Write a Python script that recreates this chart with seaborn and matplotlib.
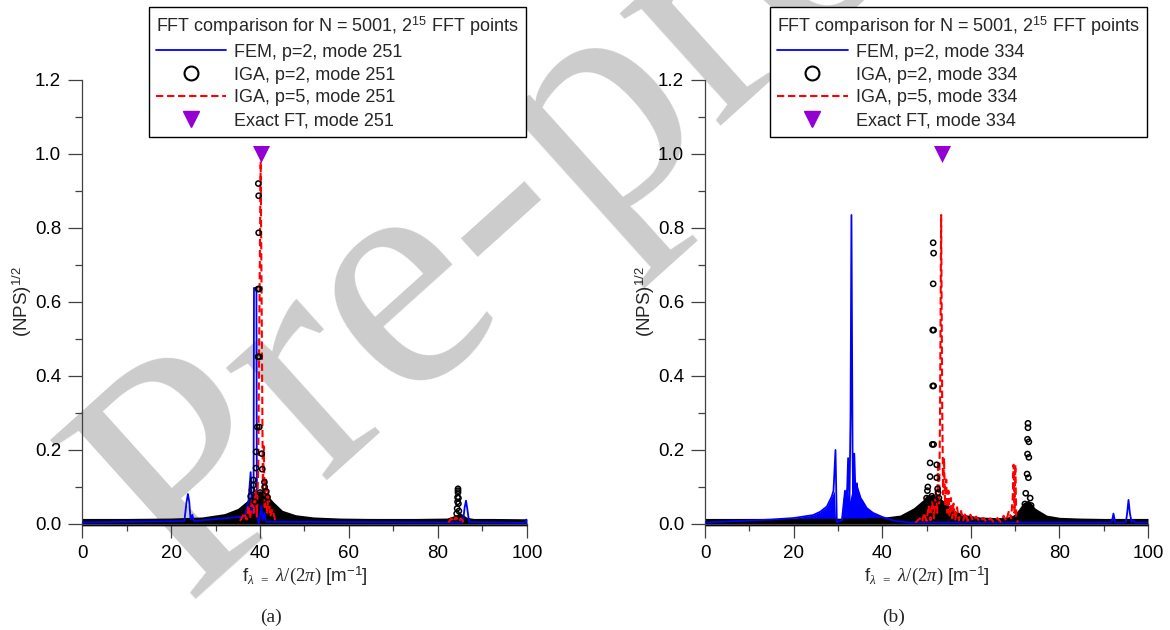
import numpy as np
import pandas as pd
import matplotlib
matplotlib.use("Agg")
import matplotlib.pyplot as plt
from matplotlib.lines import Line2D
import seaborn as sns

# ---------------- data ----------------
# panel (a): mode 251
fem_a_x = [0, 23.0, 23.5, 23.8, 24.1, 24.4, 24.8, 25.1, 36.5, 37.4, 37.9, 38.15, 38.55, 38.65,
           39.2, 39.3, 39.7, 40.3, 40.6, 41.0, 41.3, 85.6, 86.0, 86.3, 86.6, 87.0, 99.6, 99.85, 100]
fem_a_y = [0.004, 0.008, 0.06, 0.081, 0.06, 0.012, 0.025, 0.008, 0.02, 0.06, 0.14, 0.03, 0.03, 0.638,
           0.638, 0.03, 0.0, 0.05, 0.01, 0.03, 0.006, 0.004, 0.045, 0.063, 0.04, 0.005, 0.003, 0.012, 0.003]
red_a_x = [35.5, 36.5, 37.0, 37.4, 37.8, 38.2, 38.6, 39.0, 39.3, 39.6, 39.85, 40.15, 40.45, 40.65,
           40.85, 41.05, 41.3, 41.6, 41.9, 42.3, 42.8, 43.5]
red_a_y = [0.008, 0.03, 0.012, 0.05, 0.015, 0.07, 0.03, 0.09, 0.02, 0.15, 0.55, 0.98, 0.45, 0.08,
           0.21, 0.04, 0.12, 0.03, 0.09, 0.02, 0.04, 0.006]
red_a2_x = [82.3, 83.0, 83.6, 84.0, 84.6, 85.2, 85.8]
red_a2_y = [0.004, 0.015, 0.006, 0.02, 0.006, 0.015, 0.004]
circ_a_x = [39.62, 39.7, 39.7, 39.55, 39.8, 39.55, 39.85, 39.4, 39.85, 39.1, 40.4, 39.1, 40.5, 38.5,
            41.0, 38.5, 41.05, 38.2, 41.4, 37.9, 41.7, 38.8, 40.8, 40.0,
            84.5, 84.5, 84.5, 84.4, 84.6, 84.4, 84.6, 84.3, 84.7, 84.2]
circ_a_y = [0.92, 0.887, 0.787, 0.635, 0.635, 0.452, 0.452, 0.262, 0.262, 0.195, 0.19, 0.151, 0.148, 0.119,
            0.113, 0.105, 0.1, 0.092, 0.088, 0.075, 0.072, 0.06, 0.065, 0.085,
            0.095, 0.09, 0.085, 0.072, 0.07, 0.06, 0.055, 0.042, 0.035, 0.028]
env_a_x = [0, 10, 20, 27, 32, 35, 37, 38.5, 40, 41.5, 43, 45, 48, 52, 58, 65, 75, 82, 83.5, 85,
           86.5, 88, 92, 100]
env_a_y = [0.015, 0.015, 0.016, 0.019, 0.028, 0.042, 0.062, 0.085, 0.09, 0.08, 0.06, 0.037, 0.025,
           0.019, 0.016, 0.015, 0.015, 0.016, 0.022, 0.03, 0.018, 0.015, 0.015, 0.014]
exact_a_x = [40.2]

# panel (b): mode 334
fem_b_x = [0, 15, 20, 24.4, 26, 27.5, 28.6, 29.0, 29.45, 29.75, 30.9, 31.6, 32.0, 32.3, 32.6, 32.85,
           33.05, 33.3, 33.45, 33.7, 34.0, 34.3, 34.6, 35.0, 35.4, 36.5, 37.9, 40.2, 43, 46,
           91.8, 92.2, 92.6, 95.0, 95.3, 95.6, 95.9, 96.3, 96.7, 97, 100]
fem_b_y = [0.004, 0.012, 0.016, 0.024, 0.033, 0.047, 0.074, 0.09, 0.2, 0.005, 0.01, 0.09, 0.06, 0.178,
           0.05, 0.3, 0.835, 0.2, 0.06, 0.19, 0.06, 0.11, 0.04, 0.07, 0.065, 0.043, 0.03, 0.018, 0.008,
           0.004, 0.004, 0.028, 0.004, 0.004, 0.03, 0.065, 0.03, 0.004, 0.01, 0.004, 0.004]
fem_env_b_x = [0, 10, 15, 20, 24.4, 26, 27.5, 28.6, 29.2, 29.5, 30.9, 31.2, 32.0, 32.6, 33.4, 34.2,
               35.4, 36.5, 37.9, 40.2, 43, 46]
fem_env_b_y = [0.01, 0.011, 0.012, 0.016, 0.024, 0.033, 0.047, 0.074, 0.09, 0.0, 0.0, 0.07, 0.1, 0.06,
               0.1, 0.11, 0.065, 0.043, 0.03, 0.018, 0.008, 0.004]
red_b_x = [47.5, 48.5, 49.0, 49.5, 50.0, 50.5, 50.9, 51.3, 51.7, 52.1, 52.4, 52.6, 52.85, 53.05, 53.3,
           53.55, 53.75, 53.95, 54.2, 54.45, 54.7, 54.95, 55.2, 55.5, 55.8, 56.1, 56.5, 56.9, 57.3,
           57.8, 58.3, 58.8, 59.3, 59.9, 60.5, 61.2, 62, 62.8, 63.6, 64.4, 65.2, 66, 66.7, 67.4, 68,
           68.6, 69.1, 69.45, 69.65, 69.85, 70.05, 70.25, 70.6]
red_b_y = [0.004, 0.015, 0.005, 0.03, 0.008, 0.05, 0.01, 0.06, 0.015, 0.09, 0.03, 0.17, 0.05, 0.3, 0.835,
           0.3, 0.08, 0.178, 0.05, 0.12, 0.03, 0.09, 0.02, 0.07, 0.015, 0.055, 0.012, 0.045, 0.01,
           0.035, 0.01, 0.03, 0.008, 0.025, 0.008, 0.02, 0.006, 0.016, 0.005, 0.015, 0.005, 0.016, 0.006,
           0.022, 0.008, 0.035, 0.015, 0.07, 0.16, 0.03, 0.16, 0.02, 0.004]
circ_b_x = [51.5, 51.6, 51.5, 51.4, 51.6, 51.4, 51.6, 51.3, 51.6, 50.8, 52.3, 50.8, 52.3, 50.3, 52.5,
            50.2, 52.6, 50.0, 52.8, 51.2, 52.0,
            72.9, 72.9, 72.8, 73.1, 72.8, 73.1, 72.7, 73.0, 72.4, 73.4, 72.2, 73.6]
circ_b_y = [0.76, 0.732, 0.649, 0.524, 0.524, 0.373, 0.373, 0.215, 0.215, 0.165, 0.16, 0.128, 0.125, 0.1,
            0.095, 0.09, 0.085, 0.07, 0.07, 0.075, 0.065,
            0.272, 0.26, 0.229, 0.222, 0.189, 0.18, 0.135, 0.125, 0.083, 0.07, 0.054, 0.05]
env_b_x = [0, 20, 35, 40, 44, 47, 49.2, 50.0, 51.5, 52.5, 53.5, 54.5, 56, 58.3, 62, 66, 68, 69.6,
           70.8, 71.8, 73, 74.5, 77.1, 80, 84.6, 90, 100]
env_b_y = [0.015, 0.015, 0.016, 0.018, 0.024, 0.043, 0.065, 0.078, 0.08, 0.075, 0.066, 0.057, 0.038,
           0.026, 0.019, 0.017, 0.018, 0.024, 0.04, 0.057, 0.065, 0.043, 0.024, 0.018, 0.016, 0.015, 0.015]
exact_b_x = [53.5]
exact_y = [1.0]

modes = ["251", "334"]
x_ticks = [0, 20, 40, 60, 80, 100]
y_ticks = [0.0, 0.2, 0.4, 0.6, 0.8, 1.0, 1.2]
legend_title = r"FFT comparison for N = 5001, 2$^{\mathsf{15}}$ FFT points"

# ---------------- style ----------------
sns.set_style("ticks")
plt.rcParams["font.family"] = ["Liberation Sans", "DejaVu Sans"]
plt.rcParams["mathtext.fontset"] = "custom"
plt.rcParams["mathtext.rm"] = "Liberation Serif"
plt.rcParams["mathtext.it"] = "Liberation Serif:italic"
plt.rcParams["mathtext.bf"] = "Liberation Serif:bold"
plt.rcParams["mathtext.sf"] = "Liberation Sans"

BLUE = "#0000ff"
RED = "#ff0000"
PURPLE = "#9400d3"
AXC = "#404040"
FS = 13.5
LFS = 13

fig = plt.figure(figsize=(11.7, 6.3), dpi=100)
fig.patch.set_facecolor("white")

# watermark
fig.text(185 / 1170, 1 - 600 / 630, "Pre-proof", rotation=42, rotation_mode="anchor", ha="left",
         va="baseline", fontsize=237, color="#cccccc", family="Liberation Serif", zorder=-10)

panels = [
    dict(rect=[0.0701, 0.1683, 0.3803, 0.7048], fem=(fem_a_x, fem_a_y), fem_env=None,
         reds=[(red_a_x, red_a_y), (red_a2_x, red_a2_y)], circ=(circ_a_x, circ_a_y),
         env=(env_a_x, env_a_y), exact=exact_a_x, leg_x=148.5 / 1170, cap="(a)", cap_x=271 / 1170),
    dict(rect=[0.6026, 0.1683, 0.3786, 0.7048], fem=(fem_b_x, fem_b_y), fem_env=(fem_env_b_x, fem_env_b_y),
         reds=[(red_b_x, red_b_y)], circ=(circ_b_x, circ_b_y),
         env=(env_b_x, env_b_y), exact=exact_b_x, leg_x=770 / 1170, cap="(b)", cap_x=894 / 1170),
]

for p, mode in zip(panels, modes):
    ax = fig.add_axes(p["rect"])
    ax.patch.set_alpha(0)

    # FEM envelope (dense oscillation)
    if p["fem_env"] is not None:
        fx, fy = p["fem_env"]
        ax.fill_between(fx, 0.0, fy, color=BLUE, lw=0, zorder=1.5)
    # dense IGA p=2 cloud (black)
    ex, ey = p["env"]
    ax.fill_between(ex, -0.005, ey, color="black", lw=0, zorder=2, clip_on=False)
    # FEM line
    sns.lineplot(x=p["fem"][0], y=p["fem"][1], ax=ax, color=BLUE, lw=1.3, estimator=None,
                 sort=False, legend=False, zorder=3)
    # IGA p=5 dashed
    for rx, ry in p["reds"]:
        sns.lineplot(x=rx, y=ry, ax=ax, color=RED, lw=1.5, estimator=None, sort=False,
                     legend=False, zorder=4, linestyle=(0, (3.5, 1.8)))
    # IGA p=2 circles
    sns.scatterplot(x=p["circ"][0], y=p["circ"][1], ax=ax, marker="o", s=14, facecolor="none",
                    edgecolor="black", linewidth=1.1, legend=False, zorder=5)
    # Exact FT
    sns.scatterplot(x=p["exact"], y=exact_y, ax=ax, marker="v", s=150, color=PURPLE,
                    edgecolor=PURPLE, linewidth=0, legend=False, zorder=6, clip_on=False)

    ax.set_xlim(0, 100)
    ax.set_ylim(0, 1.2)
    ax.set_xticks(x_ticks)
    ax.set_xticks([10, 30, 50, 70, 90], minor=True)
    ax.set_yticks(y_ticks)
    ax.set_yticks([0.1, 0.3, 0.5, 0.7, 0.9, 1.1], minor=True)
    ax.set_yticklabels([f"{v:.1f}" for v in y_ticks])
    ax.set_xticklabels([str(v) for v in x_ticks])
    for s in ["top", "right"]:
        ax.spines[s].set_visible(False)
    for s in ["left", "bottom"]:
        ax.spines[s].set_color(AXC)
        ax.spines[s].set_linewidth(0.9)
    ax.tick_params(which="major", direction="out", length=10, width=0.9, color=AXC,
                   labelsize=FS, pad=5, labelcolor="black")
    ax.tick_params(which="minor", direction="out", length=5, width=0.9, color=AXC)

    ax.set_ylabel(r"(NPS)$^{\mathsf{1/2}}$", fontsize=FS, labelpad=1)
    ax.set_xlabel(r"f$_{\lambda}$ $_{=}$ $\lambda/(2\pi)$ [m$^{\mathsf{-1}}$]", fontsize=FS, labelpad=2)

    handles = [
        Line2D([], [], color=BLUE, lw=1.3),
        Line2D([], [], ls="none", marker="o", ms=10, mfc="none", mec="black", mew=1.5),
        Line2D([], [], color=RED, lw=1.5, ls=(0, (3.5, 1.8))),
        Line2D([], [], ls="none", marker="v", ms=11, mfc=PURPLE, mec=PURPLE),
    ]
    labels = [f"FEM, p=2, mode {mode}", f"IGA, p=2, mode {mode}",
              f"IGA, p=5, mode {mode}", f"Exact FT, mode {mode}"]
    leg = ax.legend(handles, labels, title=legend_title, loc="upper left",
                    bbox_to_anchor=(p["leg_x"], 1 - 7 / 630), bbox_transform=fig.transFigure,
                    borderaxespad=0, fontsize=LFS, title_fontsize=LFS, frameon=True, fancybox=False,
                    edgecolor="black", framealpha=1, borderpad=0.4, handlelength=3.9,
                    handletextpad=0.45, labelspacing=0.33, alignment="left")
    leg.get_frame().set_linewidth(1.0)
    leg.set_zorder(10)

    fig.text(p["cap_x"], 1 - 617 / 630, p["cap"], ha="center", va="center", fontsize=14,
             family="Liberation Serif")

fig.savefig("out.png", dpi=100)
